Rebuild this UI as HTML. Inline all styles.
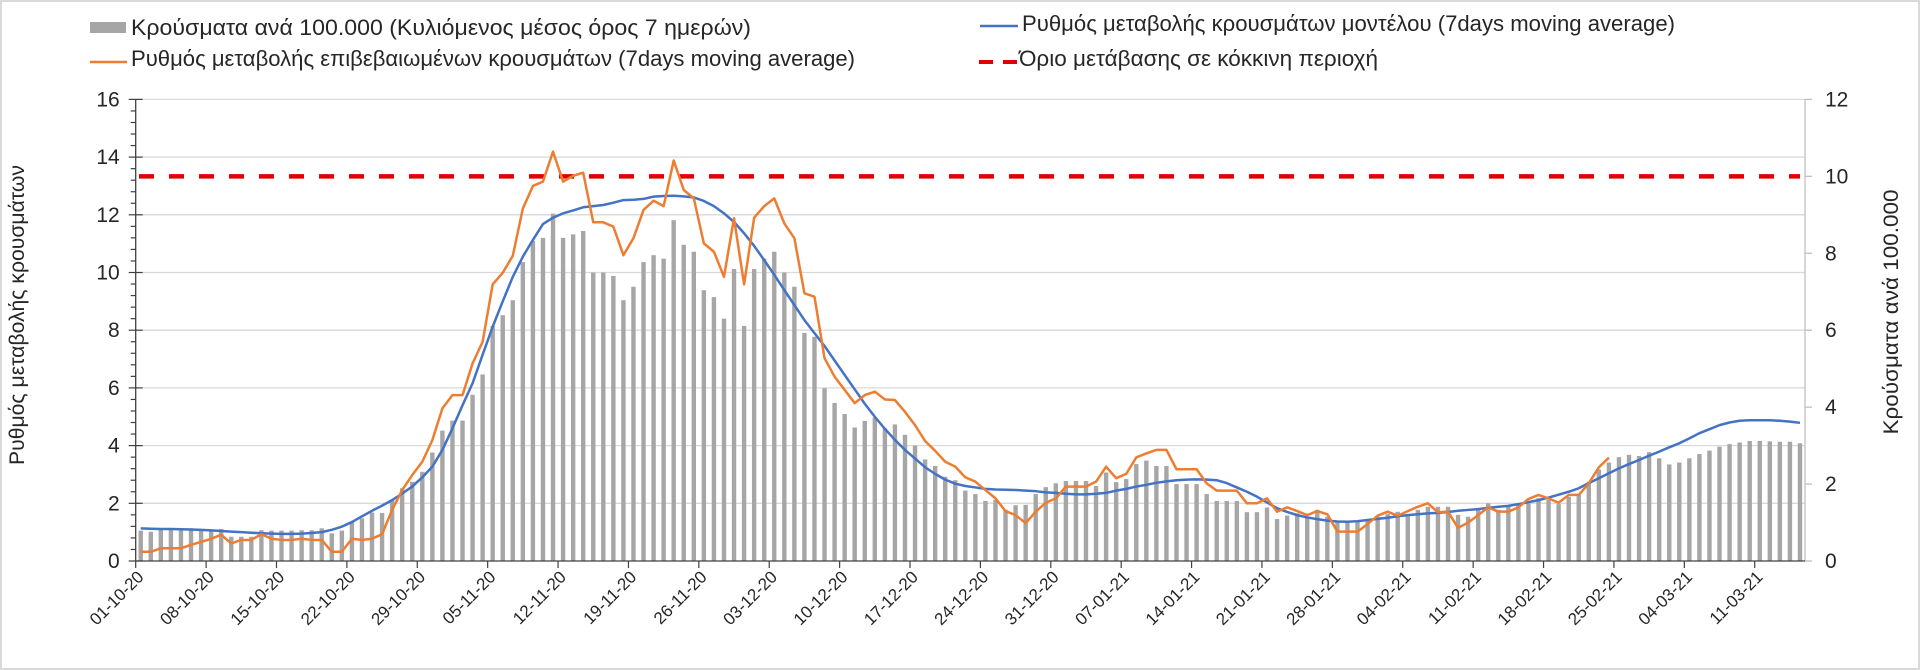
<!DOCTYPE html>
<html><head><meta charset="utf-8">
<style>
html,body{margin:0;padding:0;background:#fff;}
body{width:1920px;height:670px;overflow:hidden;font-family:"Liberation Sans","DejaVu Sans",sans-serif;}
#frame{position:absolute;left:0;top:0;width:1916px;height:666px;border:2px solid #d9d9d9;}
svg text{font-family:"Liberation Sans","DejaVu Sans",sans-serif;fill:#262626;}
</style></head>
<body>
<div id="frame"></div>
<svg id="chart" width="1920" height="670" style="position:absolute;left:0;top:0">
  <g id="legend">
    <g>
      <rect x="90" y="22" width="36" height="11" fill="#a6a6a6"/>
      <text x="131" y="35" font-size="22" textLength="620" lengthAdjust="spacingAndGlyphs">Κρούσματα ανά 100.000 (Κυλιόμενος μέσος όρος 7 ημερών)</text>
    </g>
    <g>
      <line x1="90" y1="62" x2="127" y2="62" stroke="#ed7d31" stroke-width="2.5"/>
      <text x="131" y="66" font-size="22" textLength="724" lengthAdjust="spacingAndGlyphs">Ρυθμός μεταβολής επιβεβαιωμένων κρουσμάτων (7days moving average)</text>
    </g>
    <g>
      <line x1="980" y1="26" x2="1018" y2="26" stroke="#4472c4" stroke-width="2.5"/>
      <text x="1022" y="31" font-size="22" textLength="653" lengthAdjust="spacingAndGlyphs">Ρυθμός μεταβολής κρουσμάτων μοντέλου (7days moving average)</text>
    </g>
    <g>
      <line x1="979" y1="62" x2="1018" y2="62" stroke="#e00000" stroke-width="4" stroke-dasharray="14,10"/>
      <text x="1019" y="66" font-size="22" textLength="359" lengthAdjust="spacingAndGlyphs">Όριο μετάβασης σε κόκκινη περιοχή</text>
    </g>
  </g>
  <text transform="translate(24,315) rotate(-90)" text-anchor="middle" font-size="21" textLength="300" lengthAdjust="spacingAndGlyphs">Ρυθμός μεταβολής κρουσμάτων</text>
  <text transform="translate(1898,312) rotate(-90)" text-anchor="middle" font-size="21" textLength="245" lengthAdjust="spacingAndGlyphs">Κρούσματα ανά 100.000</text>
  <g id="grid"></g><g id="bars"></g><g id="lines"></g><g id="axes"></g>
</svg>
<script>
const categoriesStart = [2020, 9, 1]; // 01-10-20
const bars = [.79,.76,.85,.85,.85,.85,.82,.82,.83,.63,
.63,.63,.80,.79,.79,.79,.80,.80,.85,.72,
.79,1.0,1.11,1.26,1.25,1.59,1.89,2.06,2.32,2.82,
3.39,3.65,3.65,4.32,4.85,6.11,6.39,6.78,7.77,8.32,
8.40,9.03,8.40,8.49,8.58,7.50,7.50,7.41,6.78,7.13,
7.77,7.95,7.86,8.86,8.22,8.04,7.04,6.86,6.30,7.59,
6.11,7.59,7.86,8.04,7.50,7.13,5.93,5.83,4.49,4.11,
3.82,3.47,3.64,3.73,3.45,3.55,3.28,3.0,2.64,2.47,
2.19,2.1,1.83,1.74,1.56,1.59,1.33,1.45,1.46,1.74,
1.92,2.02,2.08,2.08,2.08,1.95,2.3,2.05,2.13,2.52,
2.61,2.47,2.47,2.0,2.0,2.0,1.74,1.56,1.56,1.56,
1.27,1.27,1.39,1.09,1.18,1.24,1.15,1.33,1.15,1.02,
1.02,1.02,1.07,1.15,1.22,1.28,1.22,1.33,1.41,1.41,
1.41,1.2,1.15,1.33,1.5,1.33,1.41,1.5,1.5,1.63,
1.59,1.48,1.67,1.72,2.06,2.38,2.56,2.7,2.76,2.73,
2.83,2.67,2.51,2.56,2.67,2.78,2.87,2.97,3.04,3.08,
3.12,3.12,3.11,3.1,3.1,3.06];
const modelRate = [1.13,1.12,1.11,1.11,1.10,1.09,1.08,1.06,1.04,1.02,
1.00,0.98,0.96,0.95,0.94,0.94,0.95,0.97,1.00,1.08,
1.19,1.35,1.55,1.74,1.92,2.11,2.34,2.58,2.90,3.27,
3.85,4.6,5.4,6.16,7.15,8.12,9.0,9.85,10.55,11.13,
11.68,11.9,12.05,12.15,12.26,12.3,12.34,12.42,12.51,12.52,
12.55,12.63,12.65,12.66,12.64,12.6,12.48,12.3,12.05,11.75,
11.36,10.92,10.43,9.92,9.39,8.87,8.35,7.9,7.45,6.95,
6.45,5.95,5.45,5.0,4.58,4.2,3.85,3.55,3.25,3.02,
2.82,2.68,2.6,2.55,2.5,2.48,2.47,2.46,2.44,2.42,
2.38,2.36,2.33,2.31,2.31,2.33,2.36,2.44,2.5,2.58,
2.64,2.71,2.76,2.8,2.82,2.83,2.82,2.8,2.7,2.55,
2.4,2.23,2.03,1.83,1.7,1.59,1.51,1.45,1.4,1.37,
1.36,1.38,1.42,1.46,1.5,1.55,1.59,1.62,1.65,1.67,
1.7,1.74,1.77,1.8,1.84,1.88,1.91,1.97,2.04,2.11,
2.2,2.3,2.4,2.52,2.7,2.87,3.04,3.21,3.36,3.5,
3.65,3.79,3.94,4.08,4.25,4.43,4.57,4.71,4.8,4.86,
4.88,4.88,4.88,4.86,4.83,4.79];
const confirmedRate = [0.32,0.32,0.44,0.44,0.44,0.56,0.66,0.77,0.91,0.61,
0.73,0.73,0.93,0.77,0.73,0.73,0.77,0.73,0.73,0.32,
0.32,0.77,0.73,0.77,0.93,1.77,2.46,2.98,3.44,4.19,
5.29,5.75,5.75,6.85,7.6,9.59,9.99,10.58,12.22,13.0,
13.15,14.19,13.15,13.35,13.46,11.74,11.74,11.59,10.6,11.19,
12.17,12.49,12.3,13.88,12.86,12.57,11.01,10.72,9.85,11.88,
9.59,11.9,12.3,12.57,11.7,11.19,9.28,9.16,7.03,6.39,
5.93,5.47,5.75,5.87,5.6,5.58,5.17,4.71,4.16,3.82,
3.44,3.27,2.9,2.75,2.46,2.17,1.73,1.59,1.31,1.71,
2.02,2.17,2.58,2.58,2.58,2.75,3.27,2.87,3.02,3.59,
3.73,3.85,3.85,3.18,3.18,3.18,2.69,2.44,2.44,2.44,
2.0,2.0,2.17,1.71,1.86,1.73,1.59,1.73,1.62,1.02,
1.02,1.02,1.28,1.57,1.71,1.57,1.73,1.88,2.0,1.69,
1.71,1.15,1.33,1.59,1.86,1.71,1.71,1.86,2.15,2.29,
2.17,2.02,2.29,2.29,2.69,3.25,3.58];
const threshold = [13.33];
const leftTicks = [0,2,4,6,8,10,12,14,16];
const rightTicks = [0,2,4,6,8,10,12];

const NS='http://www.w3.org/2000/svg';
const X0=135.7, X1=1805, Y0=561, Y1=99.4;
const N=bars.length, cw=(X1-X0)/N;
const xC=i=>X0+cw*(i+0.5);
const yL=v=>Y0-(v/16)*(Y0-Y1);
const yR=v=>Y0-(v/12)*(Y0-Y1);
function mk(tag,attrs,parent){const e=document.createElementNS(NS,tag);for(const k in attrs)e.setAttribute(k,attrs[k]);parent.appendChild(e);return e;}
const grid=document.getElementById('grid'),gb=document.getElementById('bars'),gl=document.getElementById('lines'),ga=document.getElementById('axes');

leftTicks.forEach(t=>{if(t===0)return;
  const g=mk('line',{x1:X0,x2:X1,y1:yL(t),y2:yL(t),stroke:'#d9d9d9','stroke-width':1.3},grid);
  
  
});
bars.forEach((v,i)=>{
  const r=mk('rect',{x:xC(i)-2.2,y:yR(v),width:4.4,height:Y0-yR(v),fill:'#a6a6a6'},gb);
  
  
});
const th=mk('line',{x1:139,x2:1800,y1:yL(threshold[0]),y2:yL(threshold[0]),stroke:'#e00000','stroke-width':4.5,'stroke-dasharray':'15,15'},gl);


const pb=mk('polyline',{points:modelRate.map((v,i)=>xC(i)+','+yL(v)).join(' '),fill:'none',stroke:'#4472c4','stroke-width':2.5,'stroke-linejoin':'round'},gl);


const po=mk('polyline',{points:confirmedRate.map((v,i)=>xC(i)+','+yL(v)).join(' '),fill:'none',stroke:'#ed7d31','stroke-width':2.5,'stroke-linejoin':'round'},gl);



const al=mk('line',{x1:X0,x2:X0,y1:Y1,y2:Y0,stroke:'#404040','stroke-width':1.3},ga);


for(let v=0;v<=16.001;v+=0.4){const maj=Math.abs(v/2-Math.round(v/2))<1e-6;
  mk('line',{x1:maj?X0-7:X0-5,x2:maj?X0+7:X0,y1:yL(v),y2:yL(v),stroke:'#404040','stroke-width':1.2},ga);}
leftTicks.forEach(t=>{const tx=mk('text',{x:X0-16,y:yL(t)+7,'text-anchor':'end','font-size':21},ga);tx.textContent=t;
  
  });
const ar=mk('line',{x1:X1,x2:X1,y1:Y1,y2:Y0,stroke:'#bfbfbf','stroke-width':1.3},ga);


rightTicks.forEach(t=>{mk('line',{x1:X1,x2:X1+7,y1:yR(t),y2:yR(t),stroke:'#bfbfbf','stroke-width':1.3},ga);
  const tx=mk('text',{x:X1+20,y:yR(t)+7,'font-size':21},ga);tx.textContent=t;
  
  });
const ax=mk('line',{x1:X0,x2:X1,y1:Y0,y2:Y0,stroke:'#404040','stroke-width':1.3},ga);


const p2=n=>String(n).padStart(2,'0');
for(let i=0;i<N;i+=7){
  mk('line',{x1:X0+cw*i,x2:X0+cw*i,y1:Y0,y2:Y0+7,stroke:'#404040','stroke-width':1.2},ga);
  const d=new Date(categoriesStart[0],categoriesStart[1],categoriesStart[2]+i);
  const lbl=p2(d.getDate())+'-'+p2(d.getMonth()+1)+'-'+String(d.getFullYear()).slice(2);
  const x=xC(i)+4,y=Y0+17;
  const tx=mk('text',{x:x,y:y,'text-anchor':'end','font-size':17,transform:'rotate(-45 '+x+' '+y+')'},ga);
  tx.textContent=lbl;
  
  
}
</script>
</body></html>
